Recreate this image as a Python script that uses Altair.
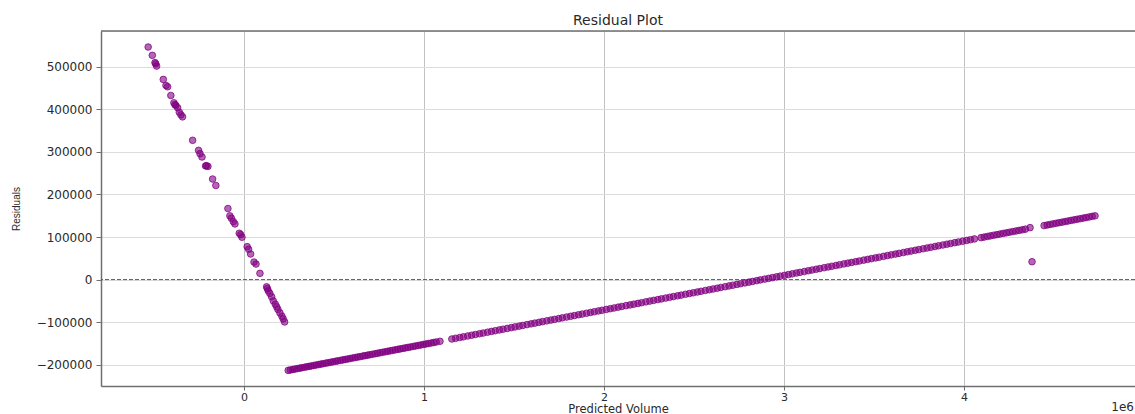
import altair as alt
import pandas as pd

# Predicted volume and residuals, branch 1 (steep descending group)
pred_a = [-532000, -509000, -494000, -490000, -485000, -448000, -433000, -424000,
          -406000, -389000, -383000, -378000, -368000, -359000, -350000, -341000,
          -285000, -252000, -244000, -233000, -213000, -208000, -200000, -174000,
          -156000, -89000, -78000, -70000, -59000, -50000, -26000, -18000, -11000,
          18000, 26000, 37000, 56000, 67000, 89000, 126000, 130000, 135000, 144000,
          154000, 163000, 174000, 182000, 189000, 200000, 211000, 218000, 226000]
resid_a = [546400, 526800, 509600, 507000, 501600, 470200, 456000, 453000,
           432500, 415300, 411000, 409000, 403500, 393200, 387000, 382300,
           327200, 303600, 295800, 288000, 267000, 267500, 265900, 236200,
           221100, 166900, 149700, 144300, 136200, 130800, 108900, 105600, 99500,
           77300, 71200, 60100, 41200, 36500, 14600, -17000, -21000, -26400, -32500,
           -40500, -50000, -57700, -64100, -70200, -78300, -86000, -92400, -99500]

# Branch 2 (long rising band), first stretch up to the gap near 1.1e6
pred_b = [246000, 258000, 271000, 283000, 297000, 310000, 322000, 336000, 349000,
          361000, 374000, 388000, 401000, 415000, 428000, 440000, 455000, 468000,
          482000, 495000, 509000, 521000, 536000, 550000, 563000, 577000, 590000,
          604000, 618000, 631000, 645000, 660000, 673000, 687000, 700000, 714000,
          729000, 742000, 756000, 770000, 785000, 798000, 812000, 826000, 841000,
          855000, 868000, 883000, 897000, 911000, 925000, 940000, 954000, 968000,
          982000, 997000, 1011000, 1025000, 1040000, 1054000, 1068000, 1089000]
resid_b = [-213300, -212300, -211200, -210300, -209100, -208100, -207100, -206000, -204900,
           -204000, -202900, -201800, -200700, -199600, -198500, -197600, -196300, -195300,
           -194200, -193100, -192000, -191000, -189800, -188700, -187600, -186500, -185400,
           -184300, -183100, -182100, -181000, -179700, -178700, -177600, -176500, -175400,
           -174200, -173100, -172000, -170800, -169600, -168600, -167400, -166300, -165100,
           -163900, -162900, -161700, -160500, -159400, -158300, -157100, -155900, -154800,
           -153700, -152400, -151300, -150200, -149000, -147800, -146700, -145000]

# Branch 2, middle stretch 1.15e6 .. 4.06e6
pred_c = [1155000, 1176000, 1199000, 1219000, 1243000, 1265000, 1286000, 1309000, 1329000, 1353000,
          1375000, 1396000, 1419000, 1439000, 1463000, 1485000, 1506000, 1529000, 1549000, 1573000,
          1595000, 1616000, 1639000, 1659000, 1683000, 1705000, 1726000, 1749000, 1769000, 1793000,
          1815000, 1836000, 1859000, 1879000, 1903000, 1925000, 1946000, 1969000, 1989000, 2013000,
          2035000, 2056000, 2079000, 2099000, 2123000, 2145000, 2166000, 2189000, 2209000, 2233000,
          2255000, 2276000, 2299000, 2319000, 2343000, 2365000, 2386000, 2409000, 2429000, 2453000,
          2475000, 2496000, 2519000, 2539000, 2563000, 2585000, 2606000, 2629000, 2649000, 2673000,
          2695000, 2716000, 2739000, 2759000, 2783000, 2805000, 2826000, 2849000, 2869000, 2893000,
          2915000, 2936000, 2959000, 2979000, 3003000, 3025000, 3046000, 3069000, 3089000, 3113000,
          3135000, 3156000, 3179000, 3199000, 3223000, 3245000, 3266000, 3289000, 3309000, 3333000,
          3355000, 3376000, 3399000, 3419000, 3443000, 3465000, 3486000, 3509000, 3529000, 3553000,
          3575000, 3596000, 3619000, 3639000, 3663000, 3685000, 3706000, 3729000, 3749000, 3773000,
          3795000, 3816000, 3839000, 3859000, 3883000, 3905000, 3926000, 3949000, 3969000, 3993000,
          4015000, 4036000, 4058000]
resid_c = [-139600, -137900, -136100, -134500, -132500, -130700, -129000, -127200, -125600, -123600,
           -121800, -120100, -118300, -116600, -114700, -112900, -111200, -109400, -107700, -105800,
           -104000, -102300, -100400, -98800, -96900, -95100, -93400, -91500, -89900, -88000,
           -86200, -84500, -82600, -81000, -79100, -77300, -75600, -73700, -72100, -70100,
           -68400, -66700, -64800, -63200, -61200, -59500, -57800, -55900, -54300, -52300,
           -50500, -48800, -47000, -45400, -43400, -41600, -39900, -38100, -36500, -34500,
           -32700, -31000, -29200, -27500, -25600, -23800, -22100, -20300, -18600, -16700,
           -14900, -13200, -11300, -9700, -7800, -6000, -4300, -2400, -800, 1100,
           2900, 4600, 6500, 8100, 10000, 11800, 13500, 15400, 17000, 19000,
           20700, 22400, 24300, 25900, 27900, 29600, 31300, 33200, 34800, 36800,
           38600, 40300, 42100, 43700, 45700, 47500, 49200, 51000, 52600, 54600,
           56400, 58100, 59900, 61600, 63500, 65300, 67000, 68800, 70500, 72400,
           74200, 75900, 77800, 79400, 81300, 83100, 84800, 86700, 88300, 90200,
           92000, 93700, 95500]

# Branch 2, upper stretches around the gap near 4.4e6, plus the lone outlier
pred_d = [4095000, 4112000, 4130000, 4147000, 4165000, 4183000, 4200000, 4218000, 4236000,
          4253000, 4271000, 4289000, 4306000, 4324000, 4341000, 4367000,
          4445000, 4462000, 4478000, 4495000, 4512000, 4528000, 4545000, 4562000, 4578000,
          4595000, 4612000, 4628000, 4645000, 4662000, 4678000, 4695000, 4712000, 4728000,
          4378000]
resid_d = [98500, 99900, 101300, 102700, 104200, 105600, 107000, 108500, 109900,
           111300, 112800, 114200, 115600, 117000, 118400, 122000,
           126800, 128200, 129500, 130900, 132300, 133600, 134900, 136300, 137600,
           139000, 140400, 141700, 143000, 144400, 145700, 147100, 148500, 149800,
           42000]

y_ticks = [-200000, -100000, 0, 100000, 200000, 300000, 400000, 500000]
x_ticks = [0, 1000000, 2000000, 3000000, 4000000]

points = pd.DataFrame({
    "predicted": pred_a + pred_b + pred_c + pred_d,
    "residual": resid_a + resid_b + resid_c + resid_d,
})

FONT = "DejaVu Sans"
INK = "#2a2a2a"
SPINE = "#6f6f6f"

x_scale = alt.Scale(domain=[-794000, 4950000], nice=False, zero=False)
y_scale = alt.Scale(domain=[-250000, 584000], nice=False, zero=False)

scatter = alt.Chart(points).mark_point(
    shape="circle", filled=True, size=44,
    fill="#800080", stroke="#800080", strokeWidth=1,
    fillOpacity=0.6, strokeOpacity=0.75,
).encode(
    x=alt.X("predicted:Q", scale=x_scale, title="Predicted Volume",
            axis=alt.Axis(values=x_ticks, labelExpr="format(datum.value / 1e6, 'd')",
                          grid=True, gridColor="#c2c2c2", gridWidth=1,
                          domainColor=SPINE, domainWidth=1.5,
                          tickColor=SPINE, tickSize=4, labelPadding=1,
                          labelFont=FONT, labelFontSize=11, labelColor=INK,
                          titleFont=FONT, titleFontSize=11.5, titleFontWeight="normal",
                          titleColor=INK, titleY=28, titleBaseline="bottom")),
    y=alt.Y("residual:Q", scale=y_scale, title="Residuals",
            axis=alt.Axis(values=y_ticks, format="d",
                          grid=True, gridColor="#dcdcdc", gridWidth=1,
                          domainColor=SPINE, domainWidth=1.5,
                          tickColor=SPINE, tickSize=5, labelPadding=4,
                          labelFont=FONT, labelFontSize=12, labelColor=INK,
                          titleFont="Liberation Sans", titleFontSize=10,
                          titleFontWeight="normal", titleColor=INK,
                          titleX=-82, titleBaseline="alphabetic")),
)

# dashed reference line at zero residual
zero_line = alt.Chart(pd.DataFrame({"residual": [0]})).mark_rule(
    color="#5a5a5a", strokeDash=[4, 2], strokeWidth=1
).encode(y=alt.Y("residual:Q", scale=y_scale))

# top spine
top_spine = alt.Chart(pd.DataFrame({"k": [0]})).mark_rule(
    color=SPINE, strokeWidth=1.5
).encode(x=alt.value(0), x2=alt.value(1034), y=alt.value(0))

# axis offset marker
offset_text = alt.Chart(pd.DataFrame({"t": ["1e6"]})).mark_text(
    align="right", baseline="alphabetic", font=FONT, fontSize=12, color=INK
).encode(x=alt.value(1033), y=alt.value(380), text="t:N")

chart = alt.layer(zero_line, scatter, top_spine, offset_text).properties(
    width=1034, height=355,
    title=alt.TitleParams("Residual Plot", font=FONT, fontSize=14,
                          fontWeight="normal", color=INK, anchor="middle", offset=2),
    autosize=alt.AutoSizeParams(type="none"),
    padding={"left": 101, "top": 31, "right": 0, "bottom": 28},
).configure_view(stroke=None).configure(background="white")

chart.save("out.html", embed_options={"renderer": "svg", "actions": False})
